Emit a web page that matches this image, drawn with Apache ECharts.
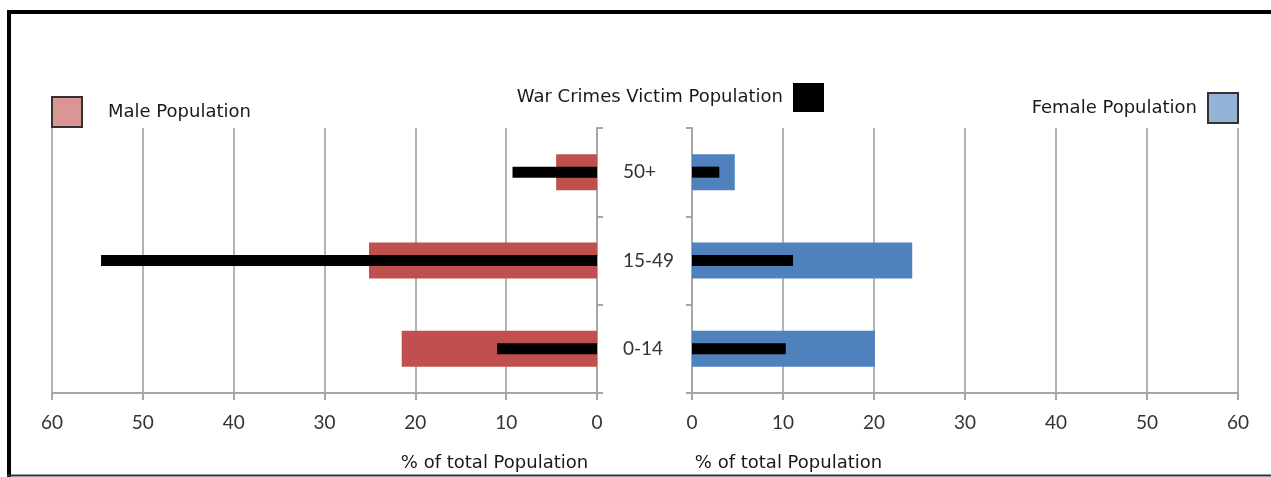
<!DOCTYPE html>
<html>
<head>
<meta charset="utf-8">
<script src="https://cdn.jsdelivr.net/npm/echarts@6/dist/echarts.min.js"></script>
<title>Population pyramid</title>
</head>
<body style="margin:0; overflow:hidden; background:#fff">
<div id="container" style="width:1271px; height:477px"></div>
<script type="text/javascript">

// age groups, bottom to top
let categories = ['0-14', '15-49', '50+'];
// % of total population
let malePop = [21.5, 25.1, 4.5];
let maleVictims = [11.0, 54.6, 9.3];
let femalePop = [20.1, 24.2, 4.7];
let femaleVictims = [10.3, 11.1, 3.0];
let ticks = [0, 10, 20, 30, 40, 50, 60];

let victimName = 'War Crimes Victim Population';
let gridColor = '#b4b4b4';
let axisColor = '#a6a6a6';
let legendFont = {fontFamily: 'DejaVu Sans', fontSize: 18, color: '#1a1a1a'};

function xAxis(grid, inverse, pad) {
    return {
        type: 'value', gridIndex: grid, inverse: inverse,
        min: ticks[0], max: ticks[ticks.length - 1], interval: ticks[1] - ticks[0],
        axisLine: {show: true, lineStyle: {color: axisColor, width: 2}},
        axisTick: {show: true, length: 7, lineStyle: {color: axisColor, width: 2}},
        splitLine: {show: true, lineStyle: {color: gridColor, width: 2}},
        axisLabel: {margin: 20, fontFamily: 'Lato', fontSize: 19, color: '#333'},
        name: '% of total Population',
        nameLocation: 'middle',
        nameGap: 61,
        nameTextStyle: {fontFamily: 'DejaVu Sans', fontSize: 18, color: '#1a1a1a', padding: pad}
    };
}

let dom = document.getElementById('container');
let chart = echarts.init(dom);
chart.setOption({
    animation: false,
    grid: [
        {left: 52, top: 128, width: 545, height: 267},
        {left: 692, top: 128, width: 546, height: 267}
    ],
    legend: [
        {
            left: 51, top: 96, padding: 0, itemWidth: 30, itemHeight: 30, selectedMode: false,
            icon: 'rect',
            textStyle: Object.assign({padding: [0, 0, 4, 21]}, legendFont),
            data: [{name: 'Male Population', itemStyle: {color: '#d99694', borderColor: '#333', borderWidth: 2}}]
        },
        {
            right: 447, top: 83, padding: 0, itemWidth: 31, itemHeight: 29, selectedMode: false,
            icon: 'rect', align: 'right',
            textStyle: Object.assign({padding: [0, 5, 0, 0]}, legendFont),
            data: [{name: victimName, itemStyle: {color: '#000'}}]
        },
        {
            right: 32, top: 92, padding: 0, itemWidth: 30, itemHeight: 30, selectedMode: false,
            icon: 'rect', align: 'right',
            textStyle: Object.assign({padding: [0, 6, 0, 0]}, legendFont),
            data: [{name: 'Female Population', itemStyle: {color: '#95b3d7', borderColor: '#333', borderWidth: 2}}]
        }
    ],
    xAxis: [
        xAxis(0, true, [0, 0, 0, 340]),
        xAxis(1, false, [0, 353, 0, 0])
    ],
    yAxis: [
        {
            type: 'category', gridIndex: 0, position: 'right', data: categories,
            axisLine: {show: true, lineStyle: {color: axisColor, width: 2}},
            axisTick: {show: true, length: 6, lineStyle: {color: axisColor, width: 2}},
            axisLabel: {margin: 26, align: 'left', fontFamily: 'Lato', fontSize: 19, color: '#333'}
        },
        {
            type: 'category', gridIndex: 1, position: 'left', data: categories,
            axisLine: {show: true, lineStyle: {color: axisColor, width: 2}},
            axisTick: {show: true, length: 6, lineStyle: {color: axisColor, width: 2}},
            axisLabel: {show: false}
        },
        {type: 'category', gridIndex: 0, data: categories, show: false},
        {type: 'category', gridIndex: 1, data: categories, show: false}
    ],
    series: [
        {name: 'Male Population', type: 'bar', xAxisIndex: 0, yAxisIndex: 0,
         barWidth: 36, itemStyle: {color: '#c0504d'}, data: malePop},
        {name: 'Female Population', type: 'bar', xAxisIndex: 1, yAxisIndex: 1,
         barWidth: 36, itemStyle: {color: '#4f81bd'}, data: femalePop},
        {name: victimName, type: 'bar', xAxisIndex: 0, yAxisIndex: 2, z: 5,
         barWidth: 11, itemStyle: {color: '#000'}, data: maleVictims},
        {name: victimName, type: 'bar', xAxisIndex: 1, yAxisIndex: 3, z: 5,
         barWidth: 11, itemStyle: {color: '#000'}, data: femaleVictims}
    ],
    graphic: [
        {type: 'line', shape: {x1: 7, y1: 12, x2: 1271, y2: 12}, style: {stroke: '#000', lineWidth: 4}},
        {type: 'line', shape: {x1: 9, y1: 10, x2: 9, y2: 477}, style: {stroke: '#000', lineWidth: 4}},
        {type: 'line', shape: {x1: 7, y1: 475.5, x2: 1271, y2: 475.5}, style: {stroke: '#333', lineWidth: 2}}
    ]
});

</script>
</body>
</html>
